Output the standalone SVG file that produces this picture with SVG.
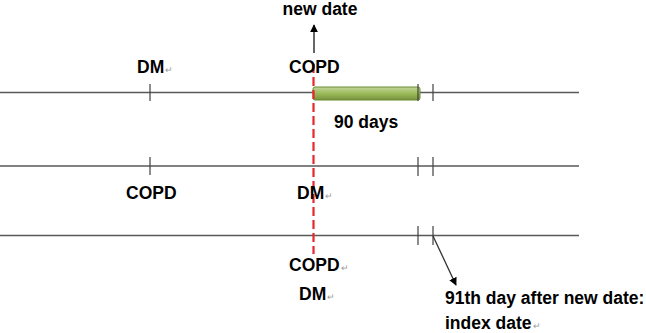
<svg xmlns="http://www.w3.org/2000/svg" width="646" height="333" viewBox="0 0 646 333">
<style>
.ln{stroke:#595959;stroke-width:1.3;fill:none}
.tk{stroke:#404040;stroke-width:1.2}
.t{font-family:"Liberation Sans",Arial,sans-serif;font-weight:bold;font-size:17.5px;fill:#000}
.pm{font-size:9px;font-weight:normal;fill:#9a9a9a}
</style>
<defs>
<linearGradient id="g" x1="0" y1="0" x2="0" y2="1">
<stop offset="0" stop-color="#c3d69b"/>
<stop offset="0.5" stop-color="#9bbb59"/>
<stop offset="1" stop-color="#76923c"/>
</linearGradient>
<marker id="ah" viewBox="0 0 10 10" refX="9" refY="5" markerWidth="8" markerHeight="8" orient="auto" markerUnits="userSpaceOnUse">
<path d="M0,0 L10,5 L0,10 z" fill="#000"/>
</marker>
</defs>
<g id="connectors">
<line class="ln" x1="0" y1="92.5" x2="579" y2="92.5"/>
<line class="ln" x1="0" y1="166" x2="579" y2="166"/>
<line class="ln" x1="0" y1="235.5" x2="579" y2="235.5"/>
<line class="tk" x1="150" y1="84" x2="150" y2="101"/>
<line class="tk" x1="433" y1="84" x2="433" y2="101"/>
<line class="tk" x1="150" y1="157" x2="150" y2="175"/>
<line class="tk" x1="418" y1="157" x2="418" y2="176"/>
<line class="tk" x1="433" y1="157" x2="433" y2="176"/>
<line class="tk" x1="418" y1="226" x2="418" y2="245"/>
<line class="tk" x1="433" y1="226" x2="433" y2="245"/>
<line x1="314" y1="53" x2="314" y2="25" stroke="#333" stroke-width="1.5" marker-end="url(#ah)"/>
<line x1="433" y1="236" x2="456" y2="285" stroke="#333" stroke-width="1.3" marker-end="url(#ah)"/>
</g>
<g id="bar">
<rect x="313" y="87" width="107" height="13" rx="2" fill="url(#g)" stroke="#6b8a35" stroke-width="1"/>
<line class="tk" x1="418" y1="84" x2="418" y2="101"/>
</g>
<g id="newdate"><line x1="313.5" y1="64" x2="313.5" y2="254" stroke="#e8262b" stroke-width="2.2" stroke-dasharray="9,4"/></g>
<g id="labels">
<text class="t" x="320" y="15" text-anchor="middle">new date</text>
<text class="t" x="137" y="73">DM<tspan class="pm" dx="1">↵</tspan></text>
<text class="t" x="289" y="73">COPD</text>
<text class="t" x="334" y="128">90 days</text>
<text class="t" x="126" y="199">COPD</text>
<text class="t" x="297" y="199">DM<tspan class="pm" dx="1">↵</tspan></text>
<text class="t" x="289" y="271">COPD<tspan class="pm" dx="1">↵</tspan></text>
<text class="t" x="299" y="300">DM<tspan class="pm" dx="1">↵</tspan></text>
<text class="t" x="445" y="304">91th day after new date:</text>
<text class="t" x="445" y="329">index date<tspan class="pm" dx="1">↵</tspan></text>
</g>
</svg>
